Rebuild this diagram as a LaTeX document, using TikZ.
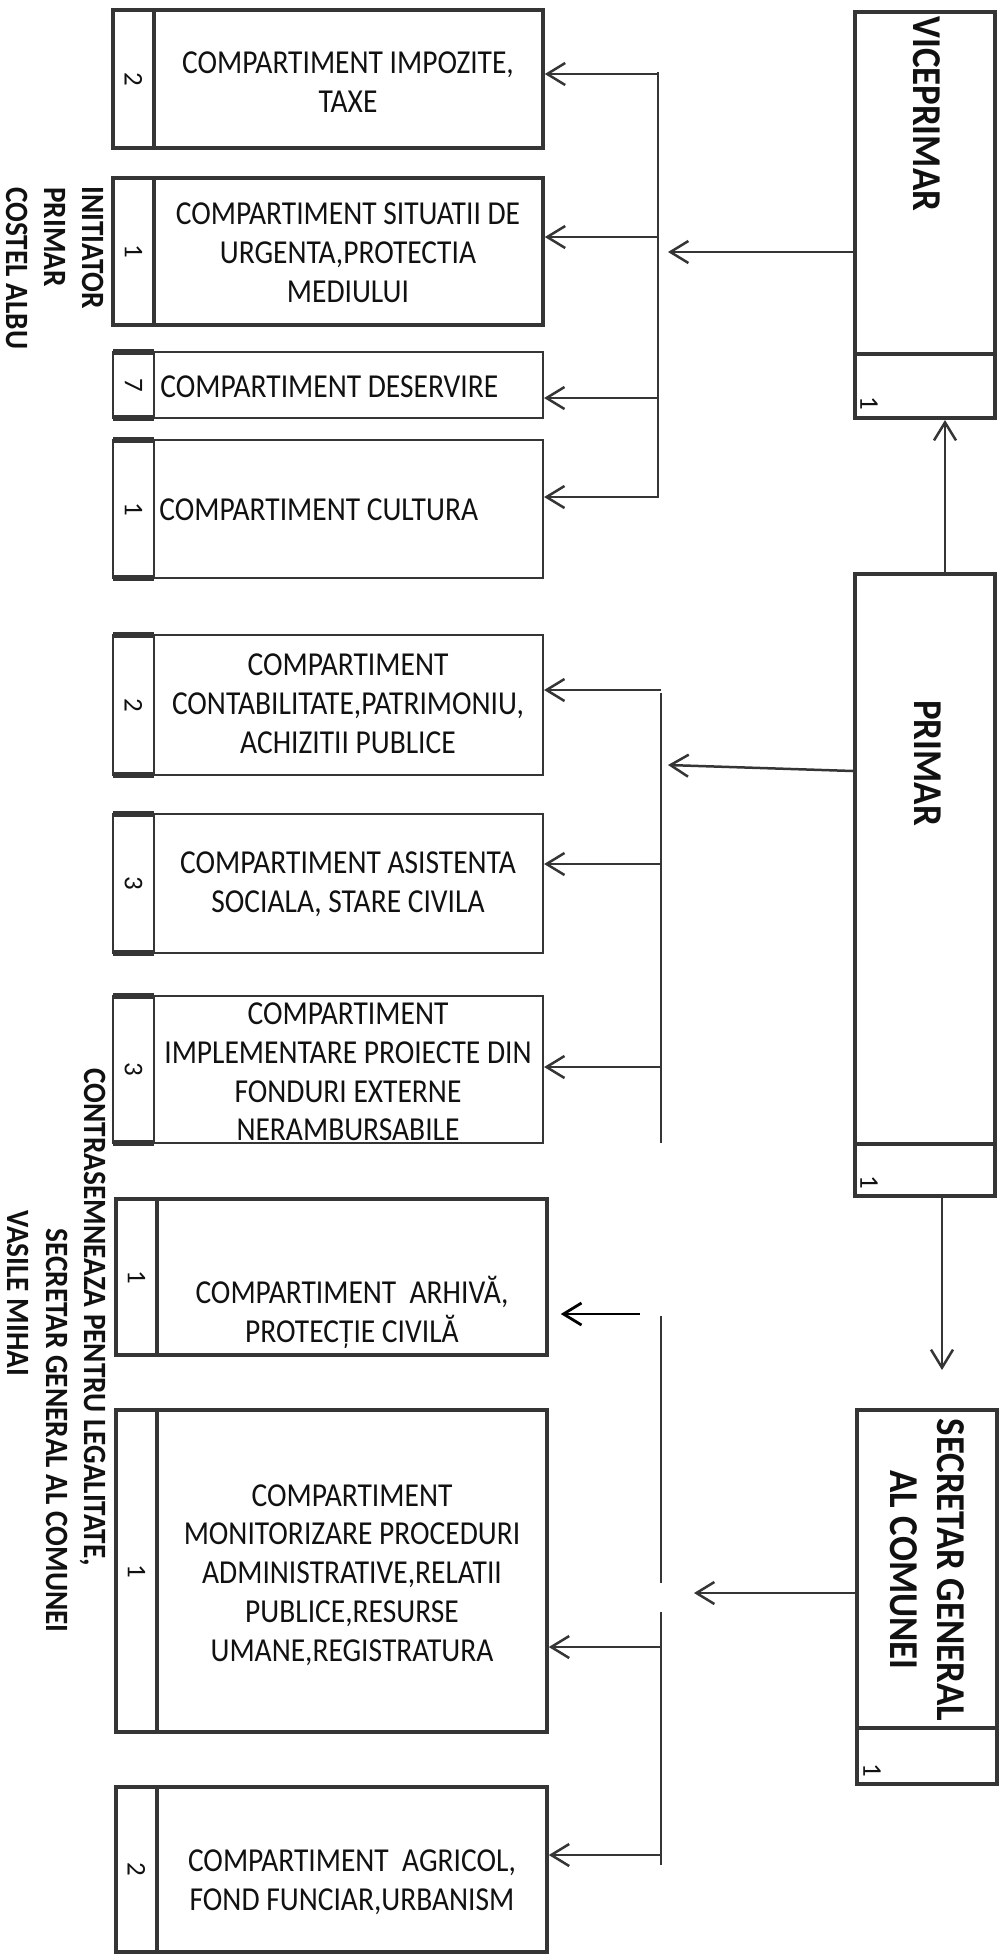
\documentclass[tikz,border=0pt]{standalone}
\usepackage{fontspec}
\setmainfont{Carlito}
\newfontfamily\boxfont{Carlito}[FakeStretch=0.88]
\newfontfamily\lblfont{Carlito}[FakeStretch=0.9]
\usetikzlibrary{arrows.meta,fit}
\definecolor{ink}{HTML}{353535}
\definecolor{txt}{HTML}{111111}
\tikzset{
  boxA/.style={draw=ink,line width=1.8pt,inner sep=0pt},
  boxB/.style={draw=ink,line width=1.1pt,inner sep=0pt},
  boxR/.style={draw=ink,line width=2pt,inner sep=0pt},
  capline/.style={draw=ink,line width=2.6pt},
  divider/.style={draw=ink,line width=2pt},
  btext/.style={font=\boxfont\fontsize{16.75}{19.4}\selectfont,align=center,inner sep=0pt,text=txt},
  numtext/.style={font=\fontsize{13.5}{15}\selectfont,rotate=-90,inner sep=0pt,text=txt},
  sidelabel/.style={font=\lblfont\bfseries\fontsize{16.25}{19}\selectfont,rotate=-90,anchor=base west,inner sep=0pt,text depth=0pt,text=txt},
  headlabel/.style={font=\lblfont\bfseries\fontsize{20.5}{23.5}\selectfont,rotate=-90,inner sep=0pt,text=txt},
  arr/.style={draw=ink,line width=1.25pt,-{Straight Barb[length=9pt,width=11pt]}},
  busline/.style={draw=ink,line width=1pt},
}
\begin{document}
\begin{tikzpicture}[x=0.5pt,y=-0.5pt]
\useasboundingbox (0,0) rectangle (1002,1956);

% ---------- left boxes ----------
\node[boxA,fit={(154,10)(543,148)}] (b1) {};
\node[boxA,fit={(113,10)(154,148)}] (s1) {};
\node[btext] (t1) at (348,82) {COMPARTIMENT IMPOZITE,\\TAXE};
\node[numtext] (n1) at (s1.center) {2};

\node[boxA,fit={(154,178)(543,325)}] (b2) {};
\node[boxA,fit={(113,178)(154,325)}] (s2) {};
\node[btext] (t2) at (348,253) {COMPARTIMENT SITUATII DE\\URGENTA,PROTECTIA\\MEDIULUI};
\node[numtext] (n2) at (s2.center) {1};

\node[boxB,fit={(154,352)(543,418)}] (b3) {};
\node[boxB,fit={(113,352)(154,418)}] (s3) {};
\draw[capline] (113,352) -- (154,352) (113,418) -- (154,418);
\node[btext,anchor=west] (t3) at (160,387) {COMPARTIMENT DESERVIRE};
\node[numtext] (n3) at (s3.center) {7};

\node[boxB,fit={(154,440)(543,578)}] (b4) {};
\node[boxB,fit={(113,440)(154,578)}] (s4) {};
\draw[capline] (113,440) -- (154,440) (113,578) -- (154,578);
\node[btext,anchor=west] (t4) at (159,510) {COMPARTIMENT CULTURA};
\node[numtext] (n4) at (s4.center) {1};

\node[boxB,fit={(154,635)(543,775)}] (b5) {};
\node[boxB,fit={(113,635)(154,775)}] (s5) {};
\draw[capline] (113,635) -- (154,635) (113,775) -- (154,775);
\node[btext] (t5) at (348,704) {COMPARTIMENT\\CONTABILITATE,PATRIMONIU,\\ACHIZITII PUBLICE};
\node[numtext] (n5) at (s5.center) {2};

\node[boxB,fit={(154,814)(543,953)}] (b6) {};
\node[boxB,fit={(113,814)(154,953)}] (s6) {};
\draw[capline] (113,814) -- (154,814) (113,953) -- (154,953);
\node[btext] (t6) at (348,884) {COMPARTIMENT ASISTENTA\\SOCIALA, STARE CIVILA};
\node[numtext] (n6) at (s6.center) {3};

\node[boxB,fit={(154,996)(543,1143)}] (b7) {};
\node[boxB,fit={(113,996)(154,1143)}] (s7) {};
\draw[capline] (113,996) -- (154,996) (113,1143) -- (154,1143);
\node[btext] (t7) at (348,1072) {COMPARTIMENT\\IMPLEMENTARE PROIECTE DIN\\FONDURI EXTERNE\\NERAMBURSABILE};
\node[numtext] (n7) at (s7.center) {3};

\node[boxA,fit={(157,1199)(547,1355)}] (b8) {};
\node[boxA,fit={(116,1199)(157,1355)}] (s8) {};
\node[btext] (t8) at (352,1312) {COMPARTIMENT\ \ ARHIVĂ,\\PROTECȚIE CIVILĂ};
\node[numtext] (n8) at (s8.center) {1};

\node[boxA,fit={(157,1410)(547,1732)}] (b9) {};
\node[boxA,fit={(116,1410)(157,1732)}] (s9) {};
\node[btext] (t9) at (352,1575) {COMPARTIMENT\\MONITORIZARE PROCEDURI\\ADMINISTRATIVE,RELATII\\PUBLICE,RESURSE\\UMANE,REGISTRATURA};
\node[numtext] (n9) at (s9.center) {1};

\node[boxA,fit={(157,1787)(547,1952)}] (b10) {};
\node[boxA,fit={(116,1787)(157,1952)}] (s10) {};
\node[btext] (t10) at (352,1882) {COMPARTIMENT\ \ AGRICOL,\\FOND FUNCIAR,URBANISM};
\node[numtext] (n10) at (s10.center) {2};

% ---------- side labels ----------
\node[sidelabel] (l1) at (82,186) {INITIATOR};
\node[sidelabel] (l2) at (44,187) {PRIMAR};
\node[sidelabel] (l3) at (6,187) {COSTEL ALBU};
\node[sidelabel] (l4) at (84,1068) {CONTRASEMNEAZA PENTRU LEGALITATE,};
\node[sidelabel] (l5) at (47,1228) {SECRETAR GENERAL AL COMUNEI};
\node[sidelabel] (l6) at (8,1210) {VASILE MIHAI};

% ---------- right column ----------
\node[boxR,fit={(855,12)(995,418)}] (vp) {};
\draw[divider] (855,354) -- (995,354);
\node[headlabel,anchor=base west] (vpt) at (913,16) {VICEPRIMAR};
\node[numtext] (vpn) at (869,403) {1};

\node[boxR,fit={(855,574)(995,1196)}] (pr) {};
\draw[divider] (855,1144) -- (995,1144);
\node[headlabel,anchor=base] (prt) at (914,763) {PRIMAR};
\node[numtext] (prn) at (869,1182) {1};

\node[boxR,fit={(857,1410)(997,1784)}] (sg) {};
\draw[divider] (857,1728) -- (997,1728);
\node[headlabel,anchor=base] (sgt1) at (937,1570) {SECRETAR GENERAL};
\node[headlabel,anchor=base] (sgt2) at (890,1570) {AL COMUNEI};
\node[numtext] (sgn) at (872,1770) {1};

% ---------- connectors between heads ----------
\coordinate (vx) at (945,0);
\draw[arr] (pr.north -| vx) -- (vp.south -| vx);
\coordinate (sx) at (942,1370);
\draw[arr] (pr.south -| sx) -- (sx);

% ---------- bus 1 (viceprimar) ----------
\coordinate (u1t) at (658,72);
\coordinate (u1b) at (658,498);
\draw[busline] (u1t) -- (u1b);
\coordinate (h1) at (668,252);
\draw[arr] (h1 -| vp.west) -- (h1);
\coordinate (j1) at (658,74);
\coordinate (j2) at (658,237);
\coordinate (j3) at (658,398);
\coordinate (j4) at (658,497);
\draw[arr] (j1) -- (j1 -| b1.east);
\draw[arr] (j2) -- (j2 -| b2.east);
\draw[arr] (j3) -- (j3 -| b3.east);
\draw[arr] (j4) -- (j4 -| b4.east);

% ---------- bus 2 (primar) ----------
\coordinate (u2t) at (661,693);
\coordinate (u2b) at (661,1143);
\draw[busline] (u2t) -- (u2b);
\coordinate (h2s) at (855,771);
\coordinate (h2) at (668,765);
\draw[arr] (h2s -| pr.west) -- (h2);
\coordinate (j5) at (661,690);
\coordinate (j6) at (661,864);
\coordinate (j7) at (661,1067);
\draw[arr] (j5) -- (j5 -| b5.east);
\draw[arr] (j6) -- (j6 -| b6.east);
\draw[arr] (j7) -- (j7 -| b7.east);

% ---------- bus 3 (secretar) ----------
\coordinate (u3t) at (661,1316);
\coordinate (u3m1) at (661,1583);
\coordinate (u3m2) at (661,1612);
\coordinate (u3b) at (661,1865);
\draw[busline] (u3t) -- (u3m1) (u3m2) -- (u3b);
\coordinate (h3) at (694,1593);
\draw[arr] (h3 -| sg.west) -- (h3);
\coordinate (j8) at (640,1314);
\draw[arr,draw=black,line width=1.4pt] (j8) -- ([xshift=6pt]j8 -| b8.east);
\coordinate (j9) at (661,1647);
\coordinate (j10) at (661,1855);
\draw[arr] (j9) -- (j9 -| b9.east);
\draw[arr] (j10) -- (j10 -| b10.east);
\end{tikzpicture}
\end{document}
